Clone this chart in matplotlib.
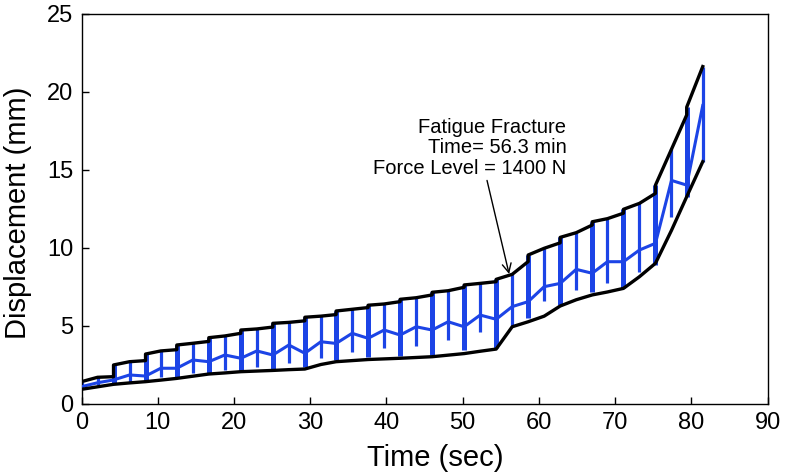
import numpy as np
import matplotlib.pyplot as plt

# time of each cycle reading (sec)
t = [0, 2.1, 4.2, 6.3, 8.4, 10.4, 12.5, 14.6, 16.7, 18.8,
     20.9, 23.0, 25.1, 27.2, 29.3, 31.4, 33.4, 35.5, 37.6, 39.7,
     41.8, 43.9, 46.0, 48.1, 50.2, 52.3, 54.4, 56.5, 58.6, 60.7,
     62.8, 64.9, 67.0, 69.0, 71.1, 73.2, 75.3, 77.4, 79.4, 81.5]
# max displacement (top of each bar / upper envelope) (mm)
upper = [1.40, 1.68, 2.47, 2.68, 3.17, 3.37, 3.75, 3.86, 4.22, 4.33,
         4.71, 4.78, 5.14, 5.20, 5.53, 5.60, 5.93, 6.04, 6.30, 6.38,
         6.68, 6.78, 7.13, 7.23, 7.60, 7.70, 7.96, 8.28, 9.52, 9.95,
         10.65, 10.95, 11.65, 11.85, 12.45, 12.83, 14.0, 16.3, 19.0, 21.6]
# upper envelope just before each step (every second reading)
upper_pre = [None, None, 1.72, None, 2.75, None, 3.45, None, 3.98, None,
             4.50, None, 4.90, None, 5.30, None, 5.70, None, 6.15, None,
             6.53, None, 6.96, None, 7.45, None, 7.81, None, 9.10, None,
             10.30, None, 11.44, None, 12.20, None, 13.47, None, 18.5, None]
# min displacement envelope (mm)
lower = [0.91, 1.07, 1.23, 1.32, 1.40, 1.50, 1.61, 1.75, 1.89, 1.96,
         2.04, 2.08, 2.12, 2.17, 2.21, 2.50, 2.68, 2.75, 2.82, 2.86,
         2.90, 2.95, 3.00, 3.10, 3.20, 3.35, 3.49, 4.92, 5.24, 5.60,
         6.25, 6.65, 6.96, 7.15, 7.38, 8.13, 8.99, 11.1, 13.26, 15.5]
# mean displacement (mm)
mean = [1.08, 1.33, 1.51, 1.83, 1.76, 2.26, 2.26, 2.79, 2.68, 3.11,
        2.90, 3.37, 3.11, 3.75, 3.22, 3.96, 3.85, 4.50, 4.18, 4.71,
        4.39, 4.92, 4.71, 5.24, 4.92, 5.67, 5.40, 6.21, 6.53, 7.49,
        7.70, 8.60, 8.35, 9.09, 9.09, 9.84, 10.27, 14.3, 14.0, 19.1]
# bottom of each blue bar (mm)
bar_low = [0.95, 1.19, 1.31, 1.40, 1.46, 1.68, 1.68, 1.94, 1.89, 2.15,
           2.04, 2.36, 2.15, 2.62, 2.32, 2.90, 2.80, 3.32, 3.00, 3.54,
           3.04, 3.69, 3.11, 4.07, 3.43, 4.60, 3.54, 4.92, 5.46, 6.60,
           6.30, 7.28, 7.17, 7.70, 7.38, 8.45, 8.88, 11.97, 13.26, 15.5]

blue = '#1c44e6'
font = ['Liberation Sans', 'DejaVu Sans']

fig = plt.figure(figsize=(7.86, 4.76), dpi=100)
ax = fig.add_axes([0.1037, 0.1523, 0.8728, 0.8193])

# blue bars, the ones at the steps drawn thicker
widths = [3.6 if p is not None else 2.3 for p in upper_pre]
ax.vlines(t, bar_low, upper, colors=blue, linewidths=widths, zorder=2)
ax.plot(t, mean, color=blue, lw=2.2, zorder=3)

# stepped upper envelope
ex, ey = [], []
for i in range(len(t)):
    if upper_pre[i] is not None:
        ex.append(t[i]); ey.append(upper_pre[i])
    ex.append(t[i]); ey.append(upper[i])
ax.plot(ex, ey, color='k', lw=2.4, zorder=4, solid_joinstyle='round')
ax.plot(t, lower, color='k', lw=2.4, zorder=4, solid_joinstyle='round')

ax.text(63.6, 16.4, 'Fatigue Fracture\nTime= 56.3 min\nForce Level = 1400 N',
        ha='right', va='center', multialignment='right', fontsize=14.5,
        family=font, linespacing=1.1)
ax.annotate('', xy=(56.1, 8.3), xytext=(53.2, 14.3),
            arrowprops=dict(arrowstyle='->', color='k', lw=1.0,
                            mutation_scale=16, shrinkA=0, shrinkB=0))

ax.set_xlim(0, 90)
ax.set_ylim(0, 25)
ax.set_xticks(range(0, 91, 10))
ax.set_yticks(range(0, 26, 5))
ax.tick_params(direction='in', length=5, width=1, top=False, right=False,
               labelsize=17, pad=6)
for lab in ax.get_xticklabels() + ax.get_yticklabels():
    lab.set_family(font)
for s in ax.spines.values():
    s.set_linewidth(1.0)
ax.set_xlabel('Time (sec)', fontsize=21, family=font)
ax.set_ylabel('Displacement (mm)', fontsize=21, family=font)
ax.xaxis.set_label_coords(0.515, -0.105)
ax.yaxis.set_label_coords(-0.072, 0.49)

fig.savefig('out.png', dpi=100)
